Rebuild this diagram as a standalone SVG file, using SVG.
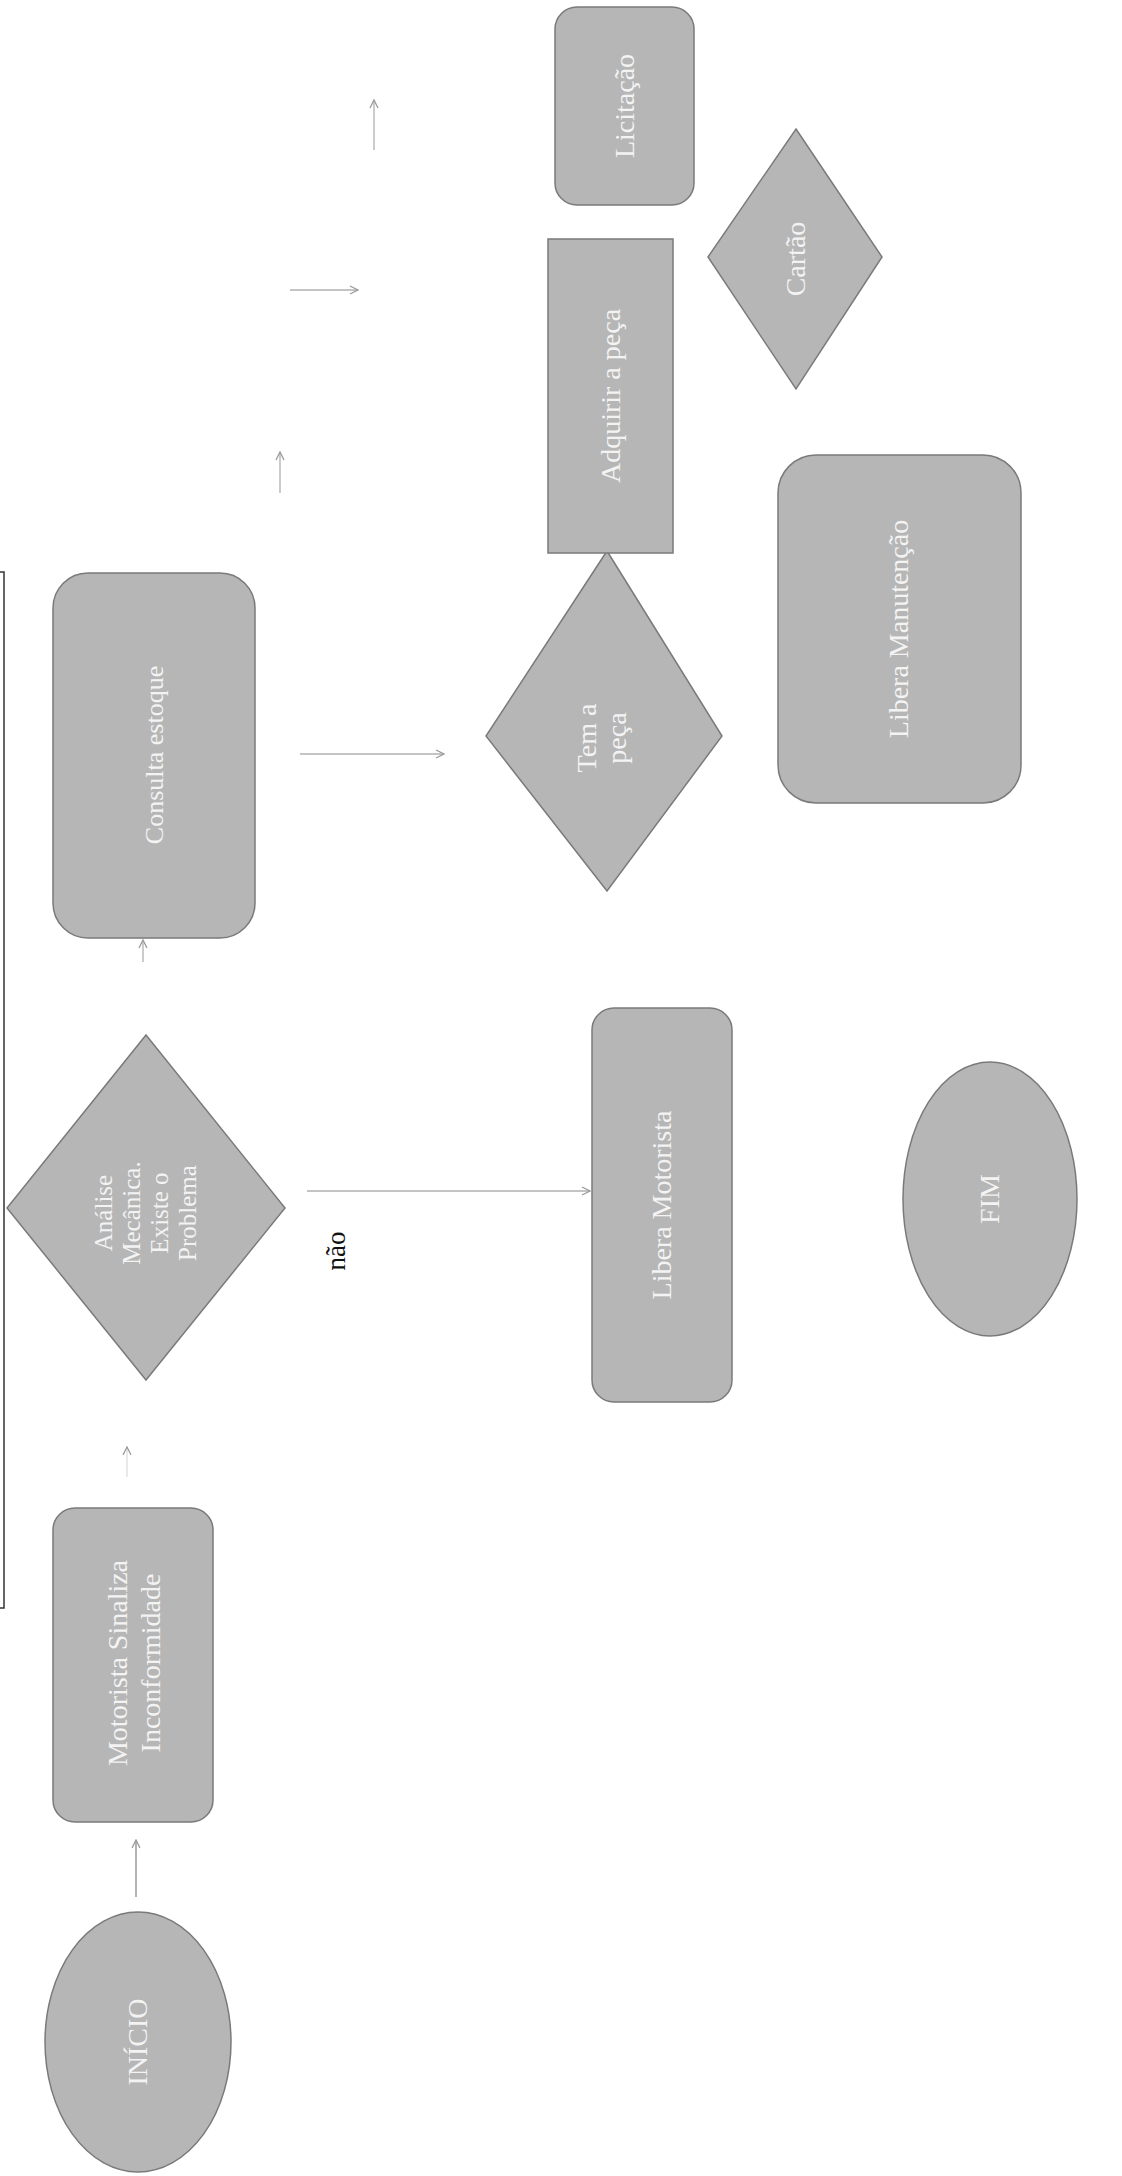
<svg xmlns="http://www.w3.org/2000/svg" width="1122" height="2176" viewBox="0 0 1122 2176">
<style>
.node{fill:#b6b6b6;stroke:#7a7a7a;stroke-width:1.5}
.lbl{font-family:"Liberation Serif","Times New Roman",serif;font-size:28px;fill:#f3f3f3;text-anchor:middle}
.note{font-family:"Liberation Serif","Times New Roman",serif;font-size:27px;fill:#111;text-anchor:middle}
.conn{fill:none;stroke:#b0b0b0;stroke-width:1.3}
.border{fill:none;stroke:#333;stroke-width:1.5}
</style>
<defs>
<marker id="ah" viewBox="0 0 10 10" refX="9" refY="5" markerWidth="10" markerHeight="10" markerUnits="userSpaceOnUse" orient="auto">
<path d="M1,1 L9,5 L1,9" fill="none" stroke="#9a9a9a" stroke-width="1.3"/>
</marker>
</defs>
<rect width="1122" height="2176" fill="#ffffff"/>
<path class="border" d="M0,572 H4 V1608 H0"/>
<g id="connectors">
<line class="conn" x1="136" y1="1897" x2="136" y2="1840" marker-end="url(#ah)" style="stroke:#8a8a8a"/>
<line class="conn" x1="127" y1="1477" x2="127" y2="1447" marker-end="url(#ah)" style="stroke:#dddddd"/>
<line class="conn" x1="143" y1="962" x2="143" y2="940" marker-end="url(#ah)"/>
<line class="conn" x1="307" y1="1191" x2="590" y2="1191" marker-end="url(#ah)"/>
<line class="conn" x1="300" y1="754" x2="444" y2="754" marker-end="url(#ah)"/>
<line class="conn" x1="280" y1="493" x2="280" y2="452" marker-end="url(#ah)"/>
<line class="conn" x1="290" y1="290" x2="358" y2="290" marker-end="url(#ah)"/>
<line class="conn" x1="374" y1="150" x2="374" y2="100" marker-end="url(#ah)"/>
<text class="note" transform="translate(345,1251) rotate(-90)">não</text>
</g>
<g id="inicio">
<ellipse class="node" cx="138" cy="2042" rx="93" ry="130"/>
<text class="lbl" transform="translate(147,2042) rotate(-90)">INÍCIO</text>
</g>
<g id="motorista">
<rect class="node" x="53" y="1508" width="160" height="314" rx="22"/>
<text class="lbl" transform="translate(133,1663) rotate(-90)"><tspan x="0" y="-6">Motorista Sinaliza</tspan><tspan x="0" y="27">Inconformidade</tspan></text>
</g>
<g id="analise">
<polygon class="node" points="146,1035 285,1208 146,1380 7,1208"/>
<text class="lbl" style="font-size:25px" transform="translate(146,1213) rotate(-90)"><tspan x="0" y="-34">Análise</tspan><tspan x="0" y="-6">Mecânica.</tspan><tspan x="0" y="22">Existe o</tspan><tspan x="0" y="50">Problema</tspan></text>
</g>
<g id="consulta">
<rect class="node" x="53" y="573" width="202" height="365" rx="35"/>
<text class="lbl" style="font-size:26px" transform="translate(163,755) rotate(-90)">Consulta estoque</text>
</g>
<g id="libera-motorista">
<rect class="node" x="592" y="1008" width="140" height="394" rx="22"/>
<text class="lbl" transform="translate(671,1205) rotate(-90)">Libera Motorista</text>
</g>
<g id="tem-peca">
<polygon class="node" points="607,551 722,736 607,891 486,736"/>
<text class="lbl" transform="translate(604,738) rotate(-90)"><tspan x="0" y="-8">Tem a</tspan><tspan x="0" y="22">peça</tspan></text>
</g>
<g id="adquirir">
<rect class="node" x="548" y="239" width="125" height="314"/>
<text class="lbl" transform="translate(620,396) rotate(-90)">Adquirir a peça</text>
</g>
<g id="licitacao">
<rect class="node" x="555" y="7" width="139" height="198" rx="22"/>
<text class="lbl" transform="translate(634,106) rotate(-90)">Licitação</text>
</g>
<g id="cartao">
<polygon class="node" points="796,129 882,257 796,389 708,257"/>
<text class="lbl" transform="translate(805,259) rotate(-90)">Cartão</text>
</g>
<g id="libera-manutencao">
<rect class="node" x="778" y="455" width="243" height="348" rx="38"/>
<text class="lbl" transform="translate(908,629) rotate(-90)">Libera Manutenção</text>
</g>
<g id="fim">
<ellipse class="node" cx="990" cy="1199" rx="87" ry="137"/>
<text class="lbl" transform="translate(999,1199) rotate(-90)">FIM</text>
</g>
</svg>
